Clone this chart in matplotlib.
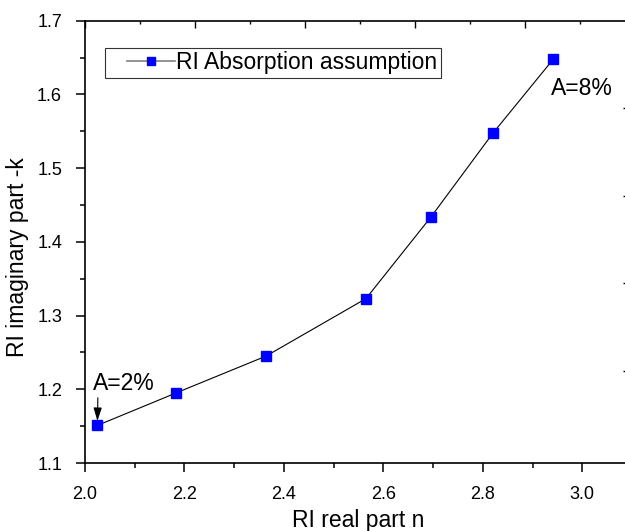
import numpy as np
import matplotlib.pyplot as plt
from matplotlib.ticker import MultipleLocator
from matplotlib.legend_handler import HandlerLine2D

plt.rcParams['font.family'] = ['Liberation Sans', 'DejaVu Sans']

# RI real part n vs RI imaginary part k (absorption 2% ... 8%)
n_real = [2.025, 2.183, 2.364, 2.565, 2.696, 2.821, 2.942]
k_imag = [1.151, 1.195, 1.245, 1.323, 1.434, 1.548, 1.648]
series_label = 'RI Absorption assumption'
first_note = 'A=2%'
last_note = 'A=8%'

W, H = 625, 531
fig = plt.figure(figsize=(W / 100, H / 100), dpi=100)
pos = [85 / W, (H - 463) / H, 547 / W, 442.3 / H]
ax = fig.add_axes(pos)

line, = ax.plot(n_real, k_imag, color='black', lw=0.8, marker='s', ms=7,
                mfc='#0000ff', mec='#0000ff', label=series_label)

ax.set_xlim(2.0, 3.1)
ax.set_ylim(1.1, 1.7)
ax.xaxis.set_major_locator(MultipleLocator(0.2))
ax.xaxis.set_minor_locator(MultipleLocator(0.1))
ax.yaxis.set_major_locator(MultipleLocator(0.1))
ax.yaxis.set_minor_locator(MultipleLocator(0.05))
ax.xaxis.set_major_formatter(lambda v, p: f'{v:.1f}')
ax.yaxis.set_major_formatter(lambda v, p: f'{v:.1f}')
ax.tick_params(which='major', direction='out', length=6.5, width=1.1, labelsize=13, pad=10)
ax.tick_params(which='minor', direction='out', length=3.5, width=1.1)
for s in ax.spines.values():
    s.set_linewidth(1.2)

ax.set_xlabel('RI real part n', fontsize=16.5)
ax.set_ylabel('RI imaginary part -k', fontsize=16.5)
ax.xaxis.set_label_coords(0.5, -0.104)
ax.yaxis.set_label_coords(-0.102, 0.466)

leg = ax.legend(loc='upper left', bbox_to_anchor=(20 / 547, 1 - 27.3 / 442.3),
                borderaxespad=0, fontsize=16.5, frameon=True, fancybox=False,
                handlelength=2.9, handletextpad=0.05, borderpad=0.15,
                markerscale=0.8, handler_map={line: HandlerLine2D(xpad=0.8)})
leg.get_frame().set_edgecolor('black')
leg.get_frame().set_linewidth(0.8)
leg.legend_handles[0].set_color('#808080')
leg.legend_handles[0].set_linewidth(1.2)

ax.annotate(first_note, xy=(n_real[0], k_imag[0] + 0.006), xytext=(2.016, 1.199),
            fontsize=16.5, ha='left', va='baseline',
            arrowprops=dict(arrowstyle='-|>,head_length=0.8,head_width=0.25',
                            color='black', lw=0.8, mutation_scale=10,
                            shrinkA=0, shrinkB=0, relpos=(0.08, 0)))
ax.text(2.938, 1.5993, last_note, fontsize=16.5, ha='left', va='baseline')

# second layer: top and right tick marks on a different scale
ax2 = fig.add_axes(pos, frameon=False)
ax2.set_xlim(0, 547 / 110)
ax2.set_ylim(5.05, 0.0)
ax2.xaxis.set_major_locator(MultipleLocator(1))
ax2.xaxis.set_minor_locator(MultipleLocator(0.5))
ax2.set_yticks([1, 2, 3, 4])
ax2.yaxis.set_minor_locator(MultipleLocator(0.5))
ax2.tick_params(which='both', bottom=False, left=False, top=True, right=True,
                labelbottom=False, labelleft=False, direction='in', width=1)
ax2.tick_params(which='major', length=5)
ax2.tick_params(axis='y', which='major', length=6.5)
ax2.tick_params(which='minor', length=2.5)

fig.savefig('out.png', dpi=100)
